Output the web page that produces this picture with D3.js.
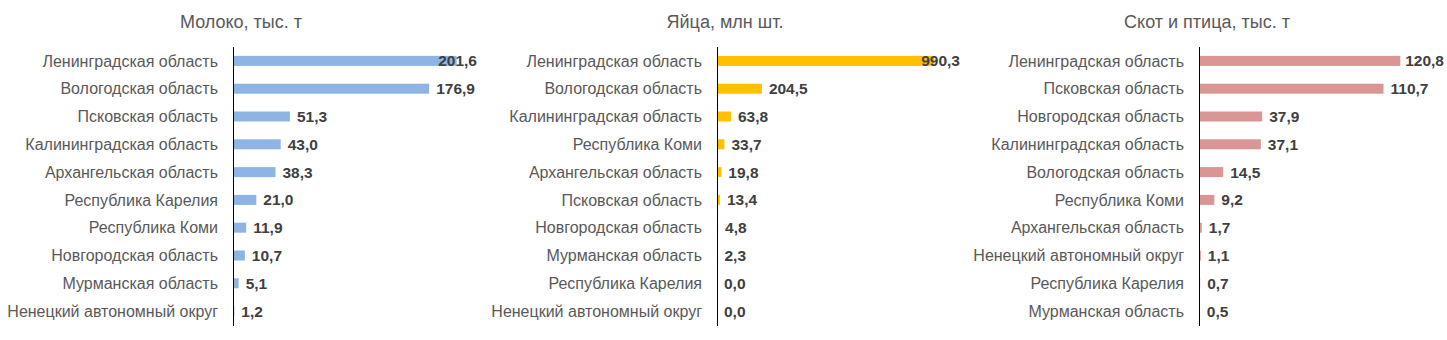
<!DOCTYPE html>
<html lang="ru">
<head>
  <meta charset="UTF-8">
  <title>Производство продукции</title>
  <script src="https://d3js.org/d3.v7.min.js"></script>
  <style>
    body { margin: 0; background: #fff; }
    svg { font-family: "Liberation Sans", Arial, sans-serif; }
    .cat { fill: #595959; font-size: 16px; }
    .val { fill: #404040; font-size: 15.5px; font-weight: bold; }
    .title { fill: #595959; font-size: 18px; }
  </style>
</head>
<body>
<div id="chart"></div>
<script>
  // data
  const milkRegions = ["Ленинградская область", "Вологодская область", "Псковская область",
    "Калининградская область", "Архангельская область", "Республика Карелия",
    "Республика Коми", "Новгородская область", "Мурманская область", "Ненецкий автономный округ"];
  const milkValues = [201.6, 176.9, 51.3, 43.0, 38.3, 21.0, 11.9, 10.7, 5.1, 1.2];

  const eggRegions = ["Ленинградская область", "Вологодская область", "Калининградская область",
    "Республика Коми", "Архангельская область", "Псковская область", "Новгородская область",
    "Мурманская область", "Республика Карелия", "Ненецкий автономный округ"];
  const eggValues = [990.3, 204.5, 63.8, 33.7, 19.8, 13.4, 4.8, 2.3, 0.0, 0.0];

  const meatRegions = ["Ленинградская область", "Псковская область", "Новгородская область",
    "Калининградская область", "Вологодская область", "Республика Коми",
    "Архангельская область", "Ненецкий автономный округ", "Республика Карелия", "Мурманская область"];
  const meatValues = [120.8, 110.7, 37.9, 37.1, 14.5, 9.2, 1.7, 1.1, 0.7, 0.5];

  const width = 1447, height = 340;
  const svg = d3.select("#chart").append("svg")
    .attr("width", width).attr("height", height);

  const fmt = v => d3.format(".1f")(v).replace(".", ",");

  function panel(opts) {
    const { title, regions, values, color, axisX, plotRight, xMax } = opts;
    const data = regions.map((r, i) => ({ region: r, value: values[i] }));
    const g = svg.append("g");

    const x = d3.scaleLinear().domain([0, xMax]).range([axisX, plotRight]);
    const y = d3.scaleBand().domain(regions).range([47, 325])
      .paddingInner(0.64).paddingOuter(0.32);

    g.append("text").attr("class", "title")
      .attr("x", axisX + 8).attr("y", 28)
      .attr("text-anchor", "middle")
      .text(title);

    g.selectAll(".bar").data(data).enter().append("rect")
      .attr("class", "bar")
      .attr("x", x(0))
      .attr("y", d => y(d.region))
      .attr("width", d => x(d.value) - x(0))
      .attr("height", y.bandwidth())
      .attr("fill", color);

    g.selectAll(".cat").data(data).enter().append("text")
      .attr("class", "cat")
      .attr("x", axisX - 15)
      .attr("y", d => y(d.region) + y.bandwidth() / 2)
      .attr("dy", "0.35em")
      .attr("text-anchor", "end")
      .text(d => d.region);

    const labels = g.selectAll(".val").data(data).enter().append("text")
      .attr("class", "val")
      .attr("y", d => y(d.region) + y.bandwidth() / 2)
      .attr("dy", "0.35em")
      .text(d => fmt(d.value));
    // outside end, but kept inside the plot area
    labels.attr("x", function(d) {
      const w = this.getComputedTextLength();
      return Math.min(x(d.value) + 7, plotRight - w);
    });

    g.append("line")
      .attr("x1", axisX + 0.5).attr("x2", axisX + 0.5)
      .attr("y1", 47).attr("y2", 326)
      .attr("stroke", "#000").attr("stroke-width", 1);
  }

  panel({ title: "Молоко, тыс. т", regions: milkRegions, values: milkValues,
    color: "#8EB4E3", axisX: 233, plotRight: 477, xMax: 220 });
  panel({ title: "Яйца, млн шт.", regions: eggRegions, values: eggValues,
    color: "#FFC000", axisX: 717, plotRight: 960, xMax: 1107 });
  panel({ title: "Скот и птица, тыс. т", regions: meatRegions, values: meatValues,
    color: "#D99694", axisX: 1199, plotRight: 1444, xMax: 147 });
</script>
</body>
</html>
